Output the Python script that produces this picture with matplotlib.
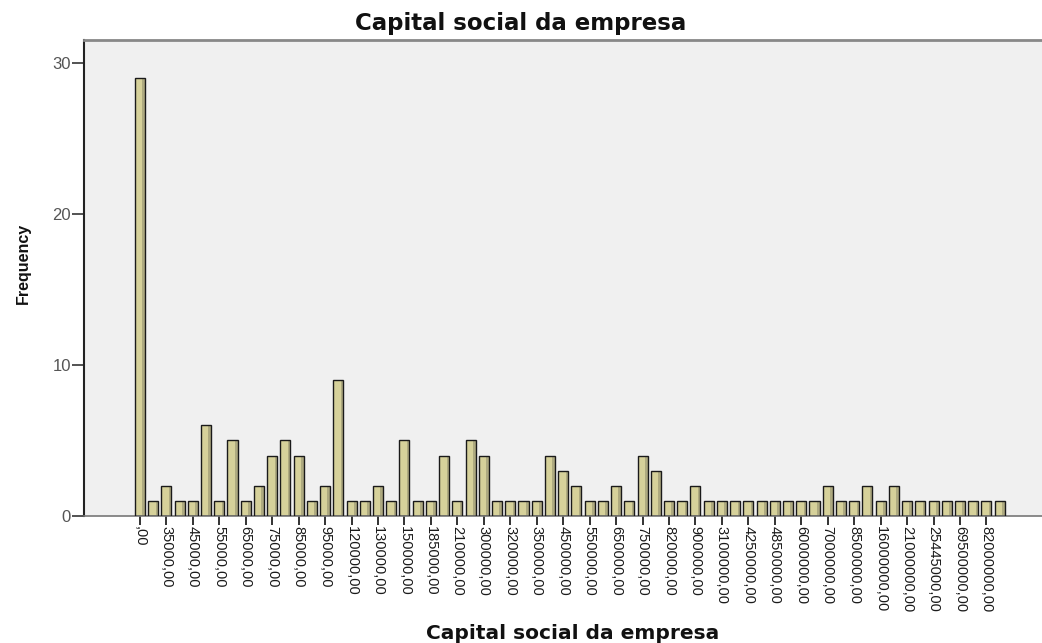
import matplotlib
matplotlib.use('Agg')
from matplotlib import pyplot as plt

# frequency of each distinct value of "Capital social da empresa" (66 bars)
frequencies = [29, 1, 2, 1, 1, 6, 1, 5, 1, 2,
               4, 5, 4, 1, 2, 9, 1, 1, 2, 1,
               5, 1, 1, 4, 1, 5, 4, 1, 1, 1,
               1, 4, 3, 2, 1, 1, 2, 1, 4, 3,
               1, 1, 2, 1, 1, 1, 1, 1, 1, 1,
               1, 1, 2, 1, 1, 2, 1, 2, 1, 1,
               1, 1, 1, 1, 1, 1]

# only every second bar carries a tick label in the original output
tick_labels = [",00", "35000,00", "45000,00", "55000,00", "65000,00", "75000,00",
               "85000,00", "95000,00", "120000,00", "130000,00", "150000,00",
               "185000,00", "210000,00", "300000,00", "320000,00", "350000,00",
               "450000,00", "550000,00", "650000,00", "750000,00", "820000,00",
               "900000,00", "3100000,00", "4250000,00", "4850000,00", "6000000,00",
               "7000000,00", "8500000,00", "16000000,00", "21000000,00",
               "25445000,00", "69500000,00", "82000000,00"]

y_ticks = [0, 10, 20, 30]

positions = list(range(len(frequencies)))
narrow = ["Liberation Sans Narrow", "Liberation Sans", "DejaVu Sans"]

fig = plt.figure(figsize=(10.42, 6.43), dpi=100)
ax = fig.add_axes([0.0806, 0.1975, 0.9194, 0.7403])
ax.set_facecolor("#f0f0f0")

# bar body, a darker strip on the right side for the SPSS shading, then the outline
ax.bar(positions, frequencies, width=0.76, color="#d6d19a", linewidth=0, zorder=2)
ax.bar([p + 0.28 for p in positions], frequencies, width=0.2, color="#aeaa80",
       linewidth=0, zorder=2)
ax.bar(positions, frequencies, width=0.76, fill=False,
       edgecolor="#1a1a1a", linewidth=1.0, zorder=3)

ax.set_xlim(-4.23, 68.2)
ax.set_ylim(0, 31.5)

ax.set_xticks(positions[::2])
ax.set_xticklabels(tick_labels, rotation=270, fontsize=10.5, color="#1a1a1a",
                   family=narrow)
ax.set_yticks(y_ticks)
ax.set_yticklabels([str(v) for v in y_ticks], fontsize=12, color="#555555",
                   family=["Liberation Sans", "DejaVu Sans"])
ax.tick_params(axis="x", direction="out", length=6.5, width=1.3, color="#222222", pad=0.5)
ax.tick_params(axis="y", direction="out", length=8.5, width=1.3, color="#444444", pad=1)

ax.spines["right"].set_visible(False)
ax.spines["top"].set_color("#888888")
ax.spines["top"].set_linewidth(2)
ax.spines["bottom"].set_color("#777777")
ax.spines["bottom"].set_linewidth(1.2)
ax.spines["left"].set_color("#222222")
ax.spines["left"].set_linewidth(1.5)

fig.text(0.5, 0.9627, "Capital social da empresa", ha="center", va="center",
         fontsize=16.5, fontweight="bold", color="#111111", family="DejaVu Sans")
ax.set_xlabel("Capital social da empresa", fontsize=14.5, fontweight="bold",
              color="#111111", family="DejaVu Sans")
ax.xaxis.set_label_coords(0.51, -0.226)
ax.set_ylabel("Frequency", fontsize=11.5, fontweight="bold", color="#111111",
              family=narrow)
ax.yaxis.set_label_coords(-0.0553, 0.5315)

plt.savefig("out.png", dpi=100)
